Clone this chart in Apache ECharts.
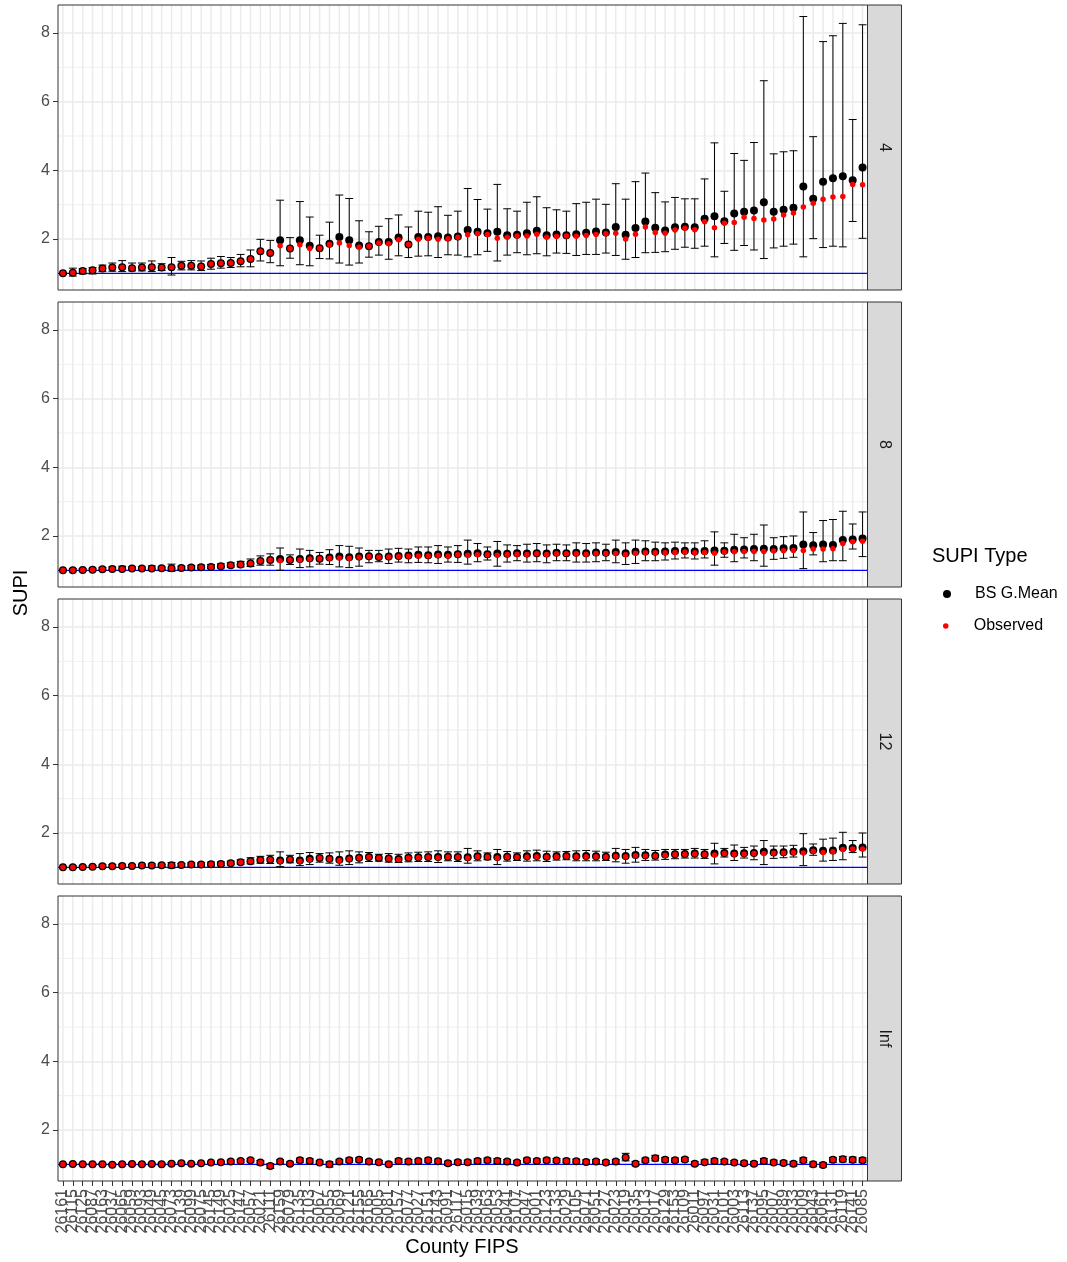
<!DOCTYPE html>
<html>
<head>
<meta charset="utf-8">
<title>SUPI by County</title>
<script src="https://cdn.jsdelivr.net/npm/echarts@6/dist/echarts.min.js"></script>
<style>
  html, body { margin: 0; padding: 0; background: #ffffff; }
  #chart { width: 1067px; height: 1262px; }
</style>
</head>
<body>
<div id="chart"></div>
<script>
// County FIPS codes, in plotting order
const fips = [
  '26161','26115','26125','26087','26163','26037','26065','26059','26093','26049',
  '26045','26073','26139','26099','26075','26145','26149','26025','26147','26057',
  '26021','26111','26159','26079','26135','26103','26067','26055','26069','26121',
  '26155','26165','26005','26081','26157','26077','26027','26151','26143','26091',
  '26117','26015','26039','26063','26053','26041','26107','26047','26001','26123',
  '26133','26029','26105','26071','26051','26127','26023','26019','26035','26013',
  '26017','26129','26153','26109','26011','26097','26031','26101','26003','26113',
  '26137','26095','26007','26089','26033','26009','26043','26061','26131','26119',
  '26141','26085'
];

// Facet labels (horizon)
const horizons = ['4', '8', '12', 'Inf'];

// Horizon 4
const h4Mean = [1.00,1.02,1.07,1.09,1.14,1.17,1.18,1.15,1.17,1.18,1.17,1.18,1.22,1.22,1.20,1.27,1.29,1.30,1.35,1.42,
  1.64,1.59,1.96,1.72,1.96,1.80,1.73,1.86,2.06,1.96,1.81,1.79,1.91,1.91,2.04,1.84,2.06,2.06,2.08,2.04,
  2.07,2.26,2.21,2.17,2.21,2.11,2.12,2.17,2.24,2.11,2.13,2.11,2.14,2.18,2.22,2.19,2.35,2.12,2.32,2.51,
  2.33,2.25,2.34,2.36,2.34,2.59,2.66,2.52,2.74,2.79,2.83,3.07,2.79,2.85,2.91,3.53,3.17,3.67,3.77,3.83,3.71,4.08];
const h4Obs = [1.00,1.02,1.07,1.09,1.14,1.17,1.18,1.15,1.17,1.18,1.17,1.18,1.22,1.22,1.20,1.27,1.29,1.30,1.35,1.42,
  1.64,1.59,1.80,1.72,1.83,1.72,1.73,1.84,1.88,1.81,1.76,1.79,1.88,1.86,1.98,1.84,1.99,2.02,1.99,2.01,
  2.05,2.12,2.15,2.13,2.02,2.05,2.09,2.09,2.14,2.05,2.07,2.09,2.08,2.10,2.13,2.15,2.17,2.00,2.14,2.35,
  2.19,2.17,2.26,2.31,2.27,2.50,2.33,2.46,2.48,2.63,2.60,2.55,2.58,2.70,2.76,2.93,3.04,3.16,3.22,3.24,3.59,3.58];
const h4Lo = [0.97,0.92,0.98,0.98,1.05,1.06,1.05,1.07,1.07,1.05,1.08,0.95,1.10,1.10,1.08,1.12,1.15,1.17,1.19,1.19,
  1.36,1.31,1.22,1.44,1.25,1.22,1.43,1.42,1.30,1.24,1.30,1.47,1.53,1.41,1.51,1.46,1.50,1.51,1.46,1.54,
  1.53,1.48,1.54,1.64,1.36,1.53,1.60,1.54,1.57,1.51,1.59,1.58,1.52,1.55,1.55,1.59,1.52,1.41,1.46,1.60,
  1.61,1.63,1.70,1.76,1.73,1.79,1.48,1.87,1.67,1.81,1.68,1.43,1.74,1.79,1.85,1.48,2.01,1.75,1.79,1.77,2.51,2.02];
const h4Hi = [1.02,1.15,1.14,1.17,1.24,1.30,1.37,1.30,1.30,1.36,1.28,1.46,1.35,1.37,1.36,1.44,1.49,1.46,1.55,1.68,
  1.99,1.96,3.13,2.04,3.09,2.64,2.11,2.49,3.28,3.18,2.53,2.21,2.37,2.59,2.70,2.35,2.81,2.78,2.94,2.69,
  2.81,3.47,3.15,2.87,3.59,2.88,2.81,3.07,3.23,2.91,2.85,2.81,3.03,3.07,3.16,3.01,3.61,3.16,3.67,3.92,
  3.35,3.08,3.21,3.17,3.17,3.75,4.80,3.39,4.49,4.29,4.81,6.61,4.48,4.54,4.57,8.48,4.98,7.75,7.92,8.28,5.48,8.24];

// Horizon 8
const h8Mean = [1.00,1.00,1.01,1.02,1.03,1.04,1.04,1.05,1.05,1.05,1.06,1.06,1.07,1.08,1.09,1.10,1.12,1.15,1.17,1.20,
  1.27,1.30,1.33,1.30,1.33,1.35,1.34,1.37,1.40,1.38,1.40,1.41,1.39,1.40,1.42,1.43,1.45,1.44,1.46,1.45,
  1.47,1.48,1.50,1.47,1.49,1.48,1.50,1.49,1.50,1.49,1.51,1.50,1.51,1.50,1.52,1.51,1.53,1.50,1.54,1.55,
  1.54,1.55,1.56,1.57,1.55,1.56,1.58,1.57,1.60,1.61,1.62,1.63,1.62,1.64,1.65,1.75,1.73,1.75,1.74,1.88,1.90,1.93];
const h8Obs = [1.00,1.00,1.01,1.02,1.03,1.04,1.04,1.05,1.05,1.05,1.06,1.06,1.07,1.08,1.09,1.10,1.12,1.15,1.17,1.20,
  1.27,1.30,1.28,1.30,1.30,1.33,1.34,1.35,1.36,1.35,1.38,1.40,1.38,1.39,1.40,1.41,1.42,1.42,1.43,1.42,
  1.45,1.44,1.45,1.45,1.44,1.46,1.47,1.46,1.48,1.46,1.48,1.48,1.48,1.47,1.49,1.49,1.49,1.46,1.50,1.51,
  1.51,1.51,1.52,1.53,1.51,1.52,1.50,1.53,1.54,1.55,1.55,1.55,1.56,1.57,1.58,1.58,1.62,1.62,1.63,1.78,1.83,1.85];
const h8Lo = [0.98,0.96,0.98,0.99,1.00,1.00,1.00,1.01,1.01,1.00,1.02,0.97,1.03,1.03,1.04,1.05,1.07,1.09,1.10,1.11,
  1.15,1.15,1.00,1.17,1.08,1.10,1.18,1.17,1.10,1.08,1.12,1.22,1.25,1.20,1.24,1.22,1.23,1.22,1.20,1.24,
  1.23,1.18,1.25,1.30,1.12,1.24,1.28,1.24,1.25,1.22,1.28,1.28,1.24,1.24,1.25,1.28,1.22,1.17,1.20,1.28,
  1.28,1.30,1.33,1.36,1.33,1.36,1.15,1.38,1.25,1.36,1.28,1.12,1.32,1.35,1.38,1.05,1.45,1.25,1.28,1.28,1.62,1.40];
const h8Hi = [1.02,1.05,1.05,1.06,1.08,1.10,1.12,1.10,1.10,1.13,1.10,1.18,1.12,1.14,1.15,1.17,1.19,1.22,1.26,1.33,
  1.42,1.48,1.65,1.45,1.62,1.58,1.52,1.60,1.72,1.70,1.65,1.58,1.58,1.62,1.64,1.62,1.68,1.68,1.72,1.68,
  1.72,1.88,1.78,1.68,1.84,1.74,1.72,1.76,1.78,1.74,1.76,1.74,1.80,1.78,1.80,1.76,1.88,1.80,1.88,1.86,
  1.82,1.80,1.82,1.80,1.80,1.86,2.12,1.80,2.05,1.95,2.05,2.32,1.95,1.98,2.00,2.70,2.10,2.45,2.48,2.72,2.35,2.70];

// Horizon 12
const h12Mean = [1.00,1.00,1.01,1.02,1.03,1.03,1.04,1.04,1.05,1.05,1.06,1.06,1.07,1.08,1.08,1.09,1.10,1.12,1.15,1.18,
  1.21,1.22,1.20,1.23,1.20,1.25,1.27,1.25,1.22,1.26,1.28,1.30,1.27,1.26,1.24,1.28,1.29,1.30,1.30,1.31,
  1.30,1.29,1.32,1.31,1.30,1.31,1.30,1.32,1.33,1.31,1.32,1.33,1.32,1.33,1.32,1.31,1.34,1.33,1.36,1.35,
  1.34,1.37,1.38,1.39,1.40,1.38,1.40,1.42,1.40,1.41,1.42,1.45,1.43,1.44,1.45,1.47,1.50,1.48,1.49,1.57,1.56,1.58];
const h12Obs = [1.00,1.00,1.01,1.02,1.03,1.03,1.04,1.04,1.05,1.05,1.06,1.06,1.07,1.08,1.08,1.09,1.10,1.12,1.15,1.18,
  1.21,1.22,1.18,1.23,1.18,1.23,1.27,1.24,1.20,1.24,1.27,1.29,1.27,1.25,1.23,1.27,1.28,1.29,1.28,1.30,
  1.29,1.27,1.31,1.30,1.27,1.30,1.29,1.30,1.31,1.30,1.31,1.32,1.31,1.31,1.31,1.30,1.32,1.31,1.34,1.33,
  1.33,1.35,1.37,1.38,1.39,1.37,1.36,1.40,1.38,1.39,1.40,1.40,1.41,1.42,1.43,1.42,1.47,1.43,1.45,1.52,1.53,1.53];
const h12Lo = [0.98,0.97,0.99,0.99,1.00,1.00,1.00,1.01,1.01,1.00,1.02,0.98,1.03,1.03,1.03,1.04,1.05,1.07,1.09,1.10,
  1.12,1.11,1.02,1.13,1.05,1.08,1.15,1.12,1.06,1.08,1.13,1.17,1.18,1.15,1.14,1.16,1.17,1.17,1.14,1.19,
  1.17,1.12,1.19,1.22,1.08,1.18,1.20,1.18,1.19,1.17,1.21,1.22,1.19,1.19,1.19,1.20,1.16,1.12,1.15,1.20,
  1.21,1.23,1.25,1.27,1.27,1.26,1.10,1.30,1.20,1.27,1.22,1.08,1.26,1.28,1.30,1.05,1.35,1.18,1.20,1.22,1.43,1.30];
const h12Hi = [1.02,1.04,1.04,1.05,1.07,1.08,1.09,1.08,1.09,1.10,1.09,1.14,1.11,1.13,1.13,1.15,1.16,1.18,1.22,1.28,
  1.32,1.35,1.45,1.35,1.40,1.43,1.40,1.42,1.45,1.48,1.45,1.43,1.38,1.40,1.38,1.42,1.44,1.45,1.48,1.45,
  1.45,1.55,1.48,1.42,1.52,1.46,1.42,1.48,1.50,1.47,1.45,1.46,1.48,1.49,1.47,1.44,1.55,1.52,1.58,1.52,
  1.49,1.52,1.52,1.52,1.55,1.52,1.70,1.55,1.65,1.58,1.62,1.78,1.62,1.62,1.64,1.98,1.68,1.82,1.85,2.02,1.78,2.00];

// Horizon Inf
const hInfMean = [1.00,1.01,1.00,1.00,1.00,0.99,1.00,1.01,1.00,1.01,1.00,1.02,1.03,1.02,1.03,1.05,1.06,1.08,1.10,1.12,
  1.05,0.95,1.08,1.02,1.12,1.10,1.05,1.00,1.08,1.12,1.13,1.08,1.06,1.00,1.10,1.08,1.10,1.12,1.09,1.03,
  1.06,1.06,1.10,1.12,1.10,1.08,1.05,1.12,1.10,1.12,1.11,1.10,1.09,1.07,1.08,1.05,1.08,1.20,1.02,1.12,
  1.18,1.13,1.12,1.14,1.02,1.06,1.10,1.08,1.05,1.03,1.02,1.10,1.05,1.04,1.02,1.12,1.00,0.98,1.13,1.15,1.13,1.12];
const hInfObs = [1.00,1.01,1.00,1.00,1.00,0.99,1.00,1.01,1.00,1.01,1.00,1.02,1.03,1.02,1.03,1.05,1.06,1.08,1.10,1.12,
  1.05,0.95,1.08,1.02,1.12,1.10,1.05,1.00,1.08,1.12,1.13,1.08,1.06,1.00,1.10,1.08,1.10,1.12,1.09,1.03,
  1.06,1.06,1.10,1.12,1.10,1.08,1.05,1.12,1.10,1.12,1.11,1.10,1.09,1.07,1.08,1.05,1.08,1.20,1.02,1.12,
  1.18,1.13,1.12,1.14,1.02,1.06,1.10,1.08,1.05,1.03,1.02,1.10,1.05,1.04,1.02,1.12,1.00,0.98,1.13,1.15,1.13,1.12];
const hInfLo = [0.98,0.98,0.98,0.98,0.98,0.96,0.98,0.98,0.97,0.98,0.97,0.99,1.00,0.99,1.00,1.02,1.03,1.04,1.06,1.07,
  0.98,0.88,1.03,0.97,1.05,1.04,1.00,0.92,1.03,1.06,1.07,1.03,1.01,0.95,1.05,1.03,1.04,1.06,1.03,0.97,
  1.00,1.00,1.04,1.06,1.03,1.03,0.99,1.06,1.05,1.06,1.06,1.05,1.04,1.02,1.03,0.99,1.02,1.10,0.96,1.06,
  1.10,1.07,1.06,1.08,0.96,1.00,1.04,1.02,0.99,0.97,0.96,1.03,0.99,0.98,0.95,1.05,0.93,0.92,1.06,1.07,1.06,1.06];
const hInfHi = [1.02,1.04,1.02,1.02,1.03,1.02,1.02,1.04,1.03,1.04,1.03,1.05,1.06,1.05,1.06,1.08,1.09,1.12,1.14,1.17,
  1.11,1.02,1.13,1.07,1.18,1.16,1.10,1.07,1.13,1.18,1.19,1.13,1.11,1.06,1.16,1.14,1.15,1.18,1.15,1.09,
  1.12,1.12,1.16,1.18,1.17,1.14,1.11,1.18,1.16,1.18,1.17,1.16,1.15,1.13,1.14,1.11,1.14,1.32,1.08,1.18,
  1.26,1.20,1.18,1.20,1.08,1.13,1.16,1.14,1.11,1.09,1.08,1.17,1.12,1.10,1.08,1.19,1.07,1.05,1.20,1.23,1.21,1.19];

const panels = [
  { mean: h4Mean,   obs: h4Obs,   lo: h4Lo,   hi: h4Hi },
  { mean: h8Mean,   obs: h8Obs,   lo: h8Lo,   hi: h8Hi },
  { mean: h12Mean,  obs: h12Obs,  lo: h12Lo,  hi: h12Hi },
  { mean: hInfMean, obs: hInfObs, lo: hInfLo, hi: hInfHi }
];

const FONT = '"Liberation Sans", Arial, Helvetica, sans-serif';
const GRID_LEFT = 58, GRID_W = 809.5, PANEL_H = 285;
const panelTops = [5, 302, 599, 896];
const Y_MIN = 0.514, Y_MAX = 8.816;
const MINOR_Y = [1, 3, 5, 7];
const REF_Y = 1;

const grids = [], xAxes = [], yAxes = [], series = [], graphics = [];

// draws one horizontal rule across the whole panel at value v
function hRule(api, params, v, color, width) {
  const cs = params.coordSys;
  const y = api.coord([0, v])[1];
  return {
    type: 'line',
    shape: { x1: cs.x, y1: y, x2: cs.x + cs.width, y2: y },
    style: { stroke: color, lineWidth: width }
  };
}

panelTops.forEach((top, i) => {
  grids.push({
    left: GRID_LEFT, top: top, width: GRID_W, height: PANEL_H,
    show: true, backgroundColor: '#FFFFFF', borderWidth: 0,
    containLabel: false
  });
  const isBottom = i === panelTops.length - 1;
  xAxes.push({
    type: 'category', gridIndex: i, data: fips, boundaryGap: true,
    axisLine: { show: false },
    axisTick: { show: isBottom, alignWithLabel: true, length: 5, lineStyle: { color: '#333333', width: 1 } },
    axisLabel: {
      show: isBottom, interval: 0, rotate: 90, margin: 8,
      fontFamily: FONT, fontSize: 16, color: '#4D4D4D'
    },
    splitLine: { show: false }
  });
  yAxes.push({
    type: 'value', gridIndex: i, min: Y_MIN, max: Y_MAX,
    axisLine: { show: false },
    axisTick: { show: true, length: 5, customValues: [2, 4, 6, 8], lineStyle: { color: '#333333', width: 1 } },
    axisLabel: {
      customValues: [2, 4, 6, 8], margin: 8,
      fontFamily: FONT, fontSize: 16, color: '#4D4D4D',
      formatter: v => (Number.isInteger(v) ? String(v) : '')
    },
    splitLine: { show: true, lineStyle: { color: '#EBEBEB', width: 1.5 } }
  });

  const d = panels[i];

  // vertical grid lines at each category
  series.push({
    type: 'custom', xAxisIndex: i, yAxisIndex: i, silent: true, z: 0,
    data: fips.map((f, j) => [j]),
    encode: { x: 0 },
    renderItem: (params, api) => {
      const cs = params.coordSys;
      const x = api.coord([api.value(0), Y_MIN])[0];
      return {
        type: 'line',
        shape: { x1: x, y1: cs.y, x2: x, y2: cs.y + cs.height },
        style: { stroke: '#EBEBEB', lineWidth: 1.5 }
      };
    }
  });

  // minor horizontal grid lines
  series.push({
    type: 'custom', xAxisIndex: i, yAxisIndex: i, silent: true, z: 0,
    data: MINOR_Y.map(v => [0, v]),
    encode: { x: 0, y: 1 },
    renderItem: (params, api) => hRule(api, params, api.value(1), '#EBEBEB', 0.8)
  });

  // reference line at SUPI = 1
  series.push({
    type: 'custom', xAxisIndex: i, yAxisIndex: i, silent: true, z: 1,
    data: [[0, REF_Y]],
    encode: { x: 0, y: 1 },
    renderItem: (params, api) => hRule(api, params, api.value(1), '#0000FF', 1.2)
  });

  // bootstrap interval error bars
  series.push({
    type: 'custom', xAxisIndex: i, yAxisIndex: i, silent: true, z: 2,
    data: fips.map((f, j) => [j, d.lo[j], d.hi[j]]),
    encode: { x: 0, y: [1, 2] },
    renderItem: (params, api) => {
      const j = api.value(0);
      const pHi = api.coord([j, api.value(2)]);
      const pLo = api.coord([j, api.value(1)]);
      const hw = api.size([1, 0])[0] * 0.4;
      const style = { stroke: '#000000', lineWidth: 1 };
      return {
        type: 'group',
        children: [
          { type: 'line', shape: { x1: pHi[0], y1: pHi[1], x2: pLo[0], y2: pLo[1] }, style },
          { type: 'line', shape: { x1: pHi[0] - hw, y1: pHi[1], x2: pHi[0] + hw, y2: pHi[1] }, style },
          { type: 'line', shape: { x1: pLo[0] - hw, y1: pLo[1], x2: pLo[0] + hw, y2: pLo[1] }, style }
        ]
      };
    }
  });

  series.push({
    name: 'BS G.Mean', type: 'scatter', xAxisIndex: i, yAxisIndex: i, z: 3,
    data: d.mean, symbol: 'circle', symbolSize: 8,
    itemStyle: { color: '#000000', opacity: 1 }, silent: true
  });
  series.push({
    name: 'Observed', type: 'scatter', xAxisIndex: i, yAxisIndex: i, z: 4,
    data: d.obs, symbol: 'circle', symbolSize: 5.5,
    itemStyle: { color: '#FF0000', opacity: 1 }, silent: true
  });

  // panel border drawn above the marks
  graphics.push({
    type: 'rect', silent: true, z: 100,
    shape: { x: GRID_LEFT, y: top, width: GRID_W, height: PANEL_H },
    style: { fill: 'none', stroke: '#333333', lineWidth: 1 }
  });
  // facet strip on the right
  graphics.push({
    type: 'rect', silent: true, z: 100,
    shape: { x: GRID_LEFT + GRID_W, y: top, width: 34, height: PANEL_H },
    style: { fill: '#D9D9D9', stroke: '#333333', lineWidth: 1 }
  });
  graphics.push({
    type: 'text', silent: true, z: 101,
    x: GRID_LEFT + GRID_W + 17, y: top + PANEL_H / 2, rotation: -Math.PI / 2,
    style: {
      text: horizons[i], fontFamily: FONT, fontSize: 16, fill: '#1A1A1A',
      align: 'center', verticalAlign: 'middle'
    }
  });
});

// axis titles and legend title
graphics.push({
  type: 'text', silent: true, x: 21, y: 593, rotation: Math.PI / 2,
  style: { text: 'SUPI', fontFamily: FONT, fontSize: 20, fill: '#000000', align: 'center', verticalAlign: 'middle' }
});
graphics.push({
  type: 'text', silent: true, x: 462, y: 1247,
  style: { text: 'County FIPS', fontFamily: FONT, fontSize: 20, fill: '#000000', align: 'center', verticalAlign: 'middle' }
});
graphics.push({
  type: 'text', silent: true, x: 932, y: 556,
  style: { text: 'SUPI Type', fontFamily: FONT, fontSize: 20, fill: '#000000', align: 'left', verticalAlign: 'middle' }
});

const chart = echarts.init(document.getElementById('chart'), null, { renderer: 'canvas' });
chart.setOption({
  backgroundColor: '#FFFFFF',
  animation: false,
  grid: grids,
  xAxis: xAxes,
  yAxis: yAxes,
  legend: [
    {
      data: [{ name: 'BS G.Mean', icon: 'circle' }],
      orient: 'vertical', left: 943, top: 586, padding: 0,
      itemWidth: 46, itemHeight: 8, selectedMode: false,
      itemStyle: { opacity: 1 },
      textStyle: { fontFamily: FONT, fontSize: 16, color: '#000000', lineHeight: 16 }
    },
    {
      data: [{ name: 'Observed', icon: 'circle' }],
      orient: 'vertical', left: 943, top: 618, padding: 0,
      itemWidth: 46, itemHeight: 5.5, selectedMode: false,
      itemStyle: { opacity: 1 },
      textStyle: { fontFamily: FONT, fontSize: 16, color: '#000000', lineHeight: 16 }
    }
  ],
  graphic: graphics,
  series: series
});
</script>
</body>
</html>
